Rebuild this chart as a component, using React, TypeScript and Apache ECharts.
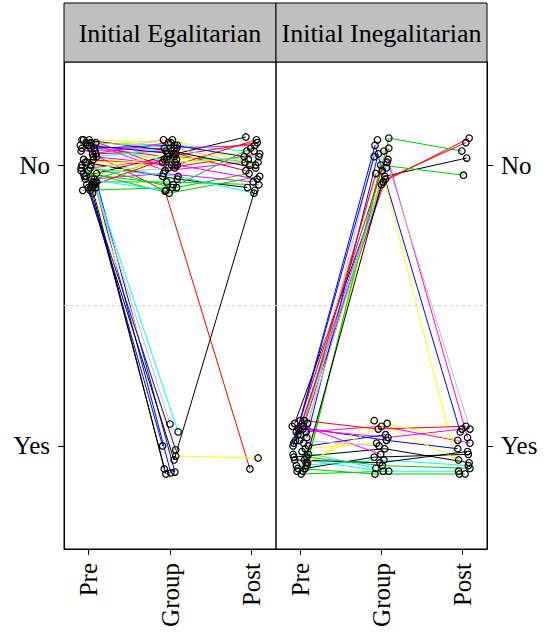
import React, { useEffect, useRef } from "react";
import * as echarts from "echarts";

// ---- data ----
const timeLabels = ["Pre", "Group", "Post"]; // x = 1, 2, 3
const responseLabels = ["Yes", "No"]; // y = 1, 2
const panelTitles = ["Initial Egalitarian", "Initial Inegalitarian"];
const referenceLevel = 1.5;
const lineColors = ["#000000", "#FF0000", "#00CD00", "#0000FF", "#00FFFF", "#FF00FF", "#FFFF00", "#BEBEBE"];

// Initial Egalitarian: jittered responses (No = 2, Yes = 1) and x jitter per time point
const egalPre = [1.93, 2.06, 1.95, 1.92, 2.08, 1.99, 2.07, 2.02, 1.96, 2.09, 1.91, 1.94, 1.93, 2.05, 1.92, 2.0, 1.93, 2.04, 1.97, 1.91, 2.07, 1.95, 2.09, 1.94, 2.01, 2.06, 1.98, 1.92, 2.03, 2.08, 1.96, 2.05, 1.9, 2.02, 1.94, 2.07, 1.99, 2.04, 2.01, 1.97, 2.09, 1.93, 2.0, 2.06, 1.95, 2.03, 1.98, 2.08];
const egalPreX = [0.04, -0.08, 0.07, 0.09, -0.03, 0.02, -0.1, 0.06, -0.05, 0.01, -0.07, 0.1, 0.08, -0.09, 0.05, 0.03, -0.02, 0.09, -0.06, 0.02, -0.01, 0.04, -0.08, 0.06, -0.04, 0.07, -0.09, 0.0, 0.1, 0.03, -0.03, 0.08, 0.05, -0.06, 0.09, 0.01, -0.09, 0.05, -0.02, 0.1, -0.06, 0.07, -0.08, 0.03, -0.04, 0.06, 0.0, 0.09];
const egalGroup = [0.918, 1.907, 2.03, 0.904, 2.07, 2.02, 2.09, 1.96, 2.04, 1.99, 1.92, 0.907, 1.05, 2.06, 0.964, 2.0, 0.95, 2.05, 1.93, 1.0, 2.01, 1.97, 2.08, 1.078, 1.95, 2.03, 1.9, 0.986, 2.06, 1.98, 2.02, 2.09, 0.9, 2.0, 1.94, 2.04, 1.96, 2.08, 2.01, 1.99, 2.05, 2.02, 1.92, 2.07, 1.91, 2.0, 2.04, 2.06];
const egalGroupX = [-0.07, -0.06, 0.05, 0.01, 0.09, -0.04, 0.03, -0.09, 0.07, -0.02, 0.08, 0.06, 0.1, -0.07, 0.07, 0.02, 0.05, -0.05, 0.04, -0.09, 0.06, -0.08, 0.01, 0.0, 0.09, -0.03, -0.01, 0.07, 0.05, -0.06, 0.08, -0.08, -0.05, 0.07, -0.04, 0.04, 0.1, -0.02, -0.09, 0.06, 0.02, -0.07, 0.03, 0.06, -0.05, 0.09, -0.03, 0.08];
const egalPost: (number | null)[] = [null, 0.918, 2.01, null, 2.05, null, 2.0, null, 2.1, 2.04, 1.97, null, null, 2.07, 0.957, null, 1.91, 1.98, null, null, 2.03, 1.94, null, null, 1.92, 2.08, 1.96, null, null, 2.01, 2.05, null, null, 2.09, 1.93, null, 1.9, null, 2.02, null, 1.99, null, 2.06, 2.03, null, 1.95, null, 2.0];
const egalPostX = [0, -0.02, 0.08, 0, -0.06, 0, 0.05, 0, -0.07, 0.1, -0.03, 0, 0, 0.04, 0.08, 0, 0.04, -0.07, 0, 0, 0.09, 0.02, 0, 0, -0.05, 0.07, 0.1, 0, 0, -0.08, 0.03, 0, 0, 0.06, 0.09, 0, 0.03, 0, -0.04, 0, 0.05, 0, -0.01, -0.09, 0, 0.07, 0, -0.02];

// Initial Inegalitarian
const inegPre = [1.08, 1.06, 0.93, 1.0, 0.95, 1.04, 0.97, 1.09, 0.92, 1.02, 0.94, 1.07, 0.98, 1.05, 0.91, 1.01, 0.96, 1.09, 0.9, 1.03, 0.93, 1.06, 0.99, 1.08, 0.95, 1.04, 0.92, 1.0, 0.97, 1.07, 0.94, 1.02, 0.91, 1.05, 0.96, 1.01];
const inegPreX = [-0.07, 0.03, 0.08, -0.09, 0.05, -0.03, 0.1, 0.0, 0.06, -0.06, 0.09, -0.1, 0.02, 0.07, -0.04, 0.04, -0.08, 0.05, 0.01, 0.08, -0.05, -0.02, 0.06, 0.09, -0.07, 0.0, -0.03, 0.1, -0.09, 0.04, 0.07, -0.01, 0.03, -0.05, 0.08, -0.08];
const inegGroup = [1.96, 1.94, 2.096, 2.07, 0.91, 2.02, 1.98, 2.05, 0.96, 1.95, 2.0, 1.02, 0.92, 1.07, 1.09, 2.09, 0.99, 1.06, 0.91, 2.04, 0.95, 1.03, 1.01, 2.01, 0.94, 1.97, 0.9, 1.04, 1.99, 0.97, 1.08, 1.0, 1.93, 2.06, 0.93, 2.03];
const inegGroupX = [0.04, 0.02, 0.09, -0.08, 0.02, 0.08, 0.01, 0.03, -0.09, 0.05, -0.01, 0.06, -0.07, 0.0, -0.09, -0.05, 0.04, -0.04, 0.09, -0.04, 0.03, 0.08, -0.06, 0.07, -0.02, -0.07, -0.08, 0.05, 0.06, -0.01, 0.07, -0.03, 0.0, 0.09, 0.01, -0.09];
const inegPost: (number | null)[] = [2.025, 2.096, 2.05, 1.05, 0.91, 1.03, 0.9, 1.06, 0.97, 2.08, 1.964, 0.99, null, 1.01, 0.95, null, 0.94, 1.07, null, null, 0.93, 1.06, null, null, 0.98, null, 0.9, null, null, null, 1.02, null, null, null, 0.92, null];
const inegPostX = [0.05, 0.08, -0.01, -0.03, -0.05, 0.06, -0.04, 0.09, 0.07, 0.04, 0.01, -0.06, 0, 0.09, -0.05, 0, 0.08, 0.04, 0, 0, 0.07, -0.01, 0, 0, 0.06, 0, 0.03, 0, 0, 0, -0.06, 0, 0, 0, 0.09, 0];

const FONT = '"Liberation Serif", "Times New Roman", serif';

function buildSeries(
  pre: number[], preX: number[], group: number[], groupX: number[],
  post: (number | null)[], postX: number[], idx: number
) {
  return pre.map((p, i) => {
    const data: number[][] = [[1 + preX[i], p], [2 + groupX[i], group[i]]];
    const q = post[i];
    if (q !== null) data.push([3 + postX[i], q]);
    return {
      type: "line",
      xAxisIndex: idx,
      yAxisIndex: idx,
      data,
      symbol: "circle",
      symbolSize: 6.5,
      showSymbol: true,
      silent: true,
      z: 3,
      lineStyle: { color: lineColors[i % 8], width: 1 },
      itemStyle: { color: "rgba(0,0,0,0)", borderColor: "#000", borderWidth: 1.2 },
      emphasis: { disabled: true },
    };
  });
}

export default function App() {
  const ref = useRef<HTMLDivElement>(null);
  useEffect(() => {
    document.body.style.margin = "0";
    if (!ref.current) return;
    const chart = echarts.init(ref.current, undefined, { renderer: "svg" });
    const grids = [
      { left: 64, top: 62, width: 212, height: 487 },
      { left: 276, top: 62, width: 211, height: 487 },
    ];
    const refSeries = [0, 1].map((g) => ({
      type: "line",
      xAxisIndex: g,
      yAxisIndex: g,
      data: [[0.7, referenceLevel], [3.3, referenceLevel]],
      symbol: "none",
      silent: true,
      z: 1,
      lineStyle: { color: "#cfcfcf", width: 1, type: [3, 3] },
    }));
    const option: any = {
      animation: false,
      backgroundColor: "#fff",
      grid: grids.map((g) => ({
        ...g,
        show: true,
        borderColor: "#000",
        borderWidth: 1,
        containLabel: false,
        outerBoundsMode: "none",
      })),
      xAxis: [0, 1].map((g) => ({
        type: "value",
        gridIndex: g,
        min: 0.7,
        max: 3.3,
        axisLine: { show: true, lineStyle: { color: "#000", width: 1 } },
        axisTick: { show: true, customValues: [1, 2, 3], length: 6, lineStyle: { color: "#000" } },
        axisLabel: {
          customValues: [1, 2, 3],
          formatter: (v: number) => timeLabels[Math.round(v) - 1] ?? "",
          rotate: 90,
          margin: 14,
          fontFamily: FONT,
          fontSize: 25,
          color: "#000",
        },
        splitLine: { show: false },
      })),
      yAxis: [0, 1].map((g) => ({
        type: "value",
        gridIndex: g,
        position: g === 0 ? "left" : "right",
        min: 0.633,
        max: 2.367,
        axisLine: { show: true, lineStyle: { color: "#000", width: 1 } },
        axisTick: { show: true, customValues: [1, 2], length: 6, lineStyle: { color: "#000" } },
        axisLabel: {
          customValues: [1, 2],
          formatter: (v: number) => responseLabels[Math.round(v) - 1] ?? "",
          margin: 14,
          fontFamily: FONT,
          fontSize: 25,
          color: "#000",
        },
        splitLine: { show: false },
      })),
      graphic: [
        ...grids.map((g) => ({
          type: "rect",
          shape: { x: g.left, y: 3, width: g.width, height: 59 },
          style: { fill: "#bfbfbf", stroke: "#000", lineWidth: 1 },
          silent: true,
          z: 10,
        })),
        ...grids.map((g, i) => ({
          type: "text",
          x: g.left + g.width / 2,
          y: 33,
          style: {
            text: panelTitles[i],
            fill: "#000",
            font: `26px ${FONT}`,
            textAlign: "center",
            textVerticalAlign: "middle",
          },
          silent: true,
          z: 11,
        })),
      ],
      series: [
        ...refSeries,
        ...buildSeries(egalPre, egalPreX, egalGroup, egalGroupX, egalPost, egalPostX, 0),
        ...buildSeries(inegPre, inegPreX, inegGroup, inegGroupX, inegPost, inegPostX, 1),
      ],
    };
    chart.setOption(option);
    return () => chart.dispose();
  }, []);
  return <div ref={ref} style={{ width: 548, height: 632 }} />;
}
